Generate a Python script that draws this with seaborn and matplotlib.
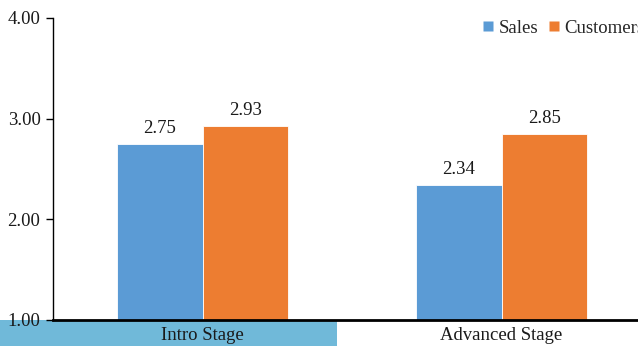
import matplotlib
matplotlib.use("Agg")
import matplotlib.pyplot as plt
import seaborn as sns
import pandas as pd
from matplotlib.patches import Rectangle
from matplotlib.lines import Line2D

categories = ["Intro Stage", "Advanced Stage"]
series = ["Sales", "Customers"]
sales = [2.75, 2.34]
customers = [2.93, 2.85]
colors = ["#5B9BD5", "#ED7D31"]

df = pd.DataFrame({
    "stage": categories * 2,
    "series": [series[0]] * 2 + [series[1]] * 2,
    "value": sales + customers,
})

sns.set_theme(style="white")
plt.rcParams["font.family"] = ["Liberation Serif", "DejaVu Serif"]
FS = 13.5

fig = plt.figure(figsize=(6.38, 3.46), dpi=100)
ax = fig.add_axes([53 / 638, 1 - 320 / 346, 598 / 638, (320 - 18) / 346])
ax.set_facecolor("none")

sns.barplot(data=df, x="stage", y="value", hue="series", order=categories,
            hue_order=series, palette=colors, width=0.57, ax=ax,
            edgecolor="white", linewidth=0.6, legend=False, saturation=1)

for cont in ax.containers:
    ax.bar_label(cont, fmt="%.2f", padding=5, fontsize=FS, color="#1a1a1a")

ax.set_ylim(1, 4)
ax.set_xlim(-0.5, 1.5)
ax.set_yticks([1, 2, 3, 4])
ax.set_yticklabels([f"{v:.2f}" for v in [1, 2, 3, 4]])
ax.set_xlabel("")
ax.set_ylabel("")
for s in ["top", "right"]:
    ax.spines[s].set_visible(False)
ax.spines["left"].set_color("black")
ax.spines["left"].set_linewidth(1.0)
ax.spines["bottom"].set_color("black")
ax.spines["bottom"].set_linewidth(2.0)
ax.tick_params(axis="y", left=True, length=5, width=1, color="black", pad=4,
               labelsize=FS, labelcolor="#1a1a1a")
ax.tick_params(axis="x", bottom=False, length=0, pad=5, labelsize=FS, labelcolor="#1a1a1a")

fig.patches.append(Rectangle((0, 0), 337 / 638, 26 / 346, transform=fig.transFigure,
                             facecolor="#70B9D9", edgecolor="none", zorder=-1))

handles = [Line2D([], [], marker="s", linestyle="none", markersize=7,
                  markerfacecolor=c, markeredgecolor="none") for c in colors]
fig.legend(handles, series, loc="center left",
           bbox_to_anchor=(483 / 638, 1 - 28 / 346), ncol=2, frameon=False,
           fontsize=FS, handletextpad=0.28, columnspacing=0.55, handlelength=0.55,
           borderaxespad=0, borderpad=0)

fig.savefig("out.png", dpi=100)
